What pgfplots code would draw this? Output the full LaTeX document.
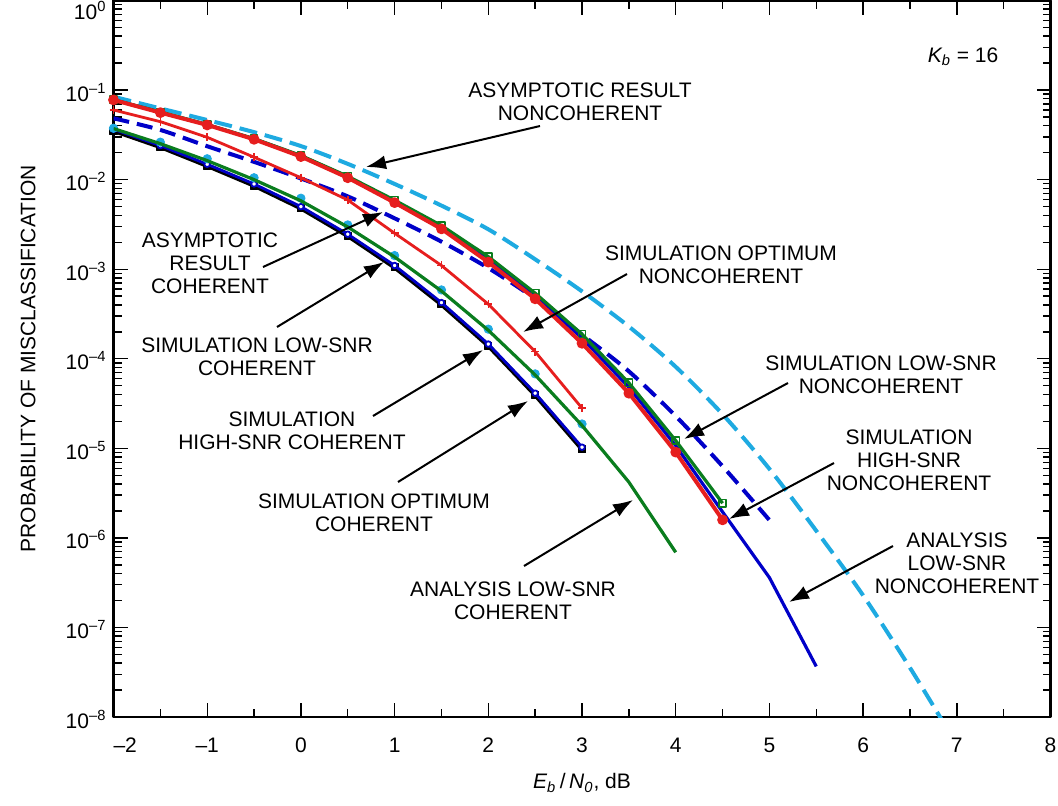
\documentclass[border=0pt]{standalone}
\usepackage{fontspec}
\setmainfont{Liberation Sans}
\usepackage{pgfplots}
\pgfplotsset{compat=1.18}
\usetikzlibrary{arrows.meta}

\definecolor{skyblue}{HTML}{1EAAE1}
\definecolor{deepblue}{HTML}{0000C8}
\definecolor{brightred}{HTML}{E61E1E}
\definecolor{darkgreen}{HTML}{0A7D1E}

\begin{document}
\begin{tikzpicture}[font=\fontsize{10.5}{11.6}\selectfont]
\begin{axis}[
  ymode=log,
  scale only axis, width=468.5pt, height=358.25pt,
  xmin=-2, xmax=8, ymin=1e-8, ymax=1,
  xtick={-2,-1,0,1,2,3,4,5,6,7,8},
  xticklabels={\makebox[0pt][l]{\textendash 2},\textendash 1,0,1,2,3,4,5,6,7,8},
  minor x tick num=1,
  ytick={1e-8,1e-7,1e-6,1e-5,1e-4,1e-3,1e-2,1e-1,1},
  yticklabels={10\textsuperscript{\textendash 8},10\textsuperscript{\textendash 7},10\textsuperscript{\textendash 6},10\textsuperscript{\textendash 5},10\textsuperscript{\textendash 4},10\textsuperscript{\textendash 3},10\textsuperscript{\textendash 2},10\textsuperscript{\textendash 1},\raisebox{-8.5pt}[0pt][0pt]{10\textsuperscript{0}}},
  tick align=inside,
  major tick length=7pt, minor tick length=4pt,
  every tick/.style={black, line width=0.7pt},
  axis line style={line width=1.2pt},
  xticklabel shift=7pt,
  yticklabel style={yshift=-1pt},
  xlabel={{\itshape E\textsubscript{b}}\,/\,{\itshape N\textsubscript{0}}, dB},
  ylabel={PROBABILITY OF MISCLASSIFICATION},
  every axis x label/.style={at={(axis description cs:0.5,-0.092)},anchor=center},
  every axis y label/.style={at={(axis description cs:-0.0912,0.5)},anchor=center,rotate=90},
  clip mode=individual,
  line join=round,
]
% asymptotic result, noncoherent
\addplot[skyblue, line width=2pt, dash pattern=on 9pt off 4pt, smooth] coordinates {
(-2,0.0843)(-1.5,0.0624)(-1,0.0463)(-0.5,0.0339)(0,0.0237)(0.5,0.0150)(1,0.00895)
(1.5,0.00513)(2,0.00279)(2.5,0.00129)(3,5.66e-4)(3.5,2.29e-4)(4,8.13e-5)(4.5,2.40e-5)
(5,5.89e-6)(5.5,1.20e-6)(6,2.28e-7)(6.5,3.55e-8)(6.85,8.9e-9)};
% asymptotic result, coherent
\addplot[deepblue, line width=2pt, dash pattern=on 8pt off 4pt, smooth] coordinates {
(-2,0.0484)(-1.5,0.0359)(-1,0.0236)(-0.5,0.0158)(0,0.0103)(0.5,0.0065)(1,0.0037)
(1.5,0.00203)(2,0.00103)(2.5,4.68e-4)(3,1.86e-4)(3.5,7.24e-5)(4,2.29e-5)(4.5,6.31e-6)(5,1.58e-6)};
% analysis low-SNR, noncoherent
\addplot[deepblue, line width=1.6pt] coordinates {
(-2,0.0778)(-1.5,0.0565)(-1,0.041)(-0.5,0.0285)(0,0.0184)(0.5,0.0107)(1,5.7e-3)
(1.5,2.95e-3)(2,1.3e-3)(2.5,5.1e-4)(3,1.7e-4)(3.5,4.8e-5)(4,1.07e-5)(4.5,1.95e-6)(5,3.6e-7)(5.5,3.67e-8)};
% simulation low-SNR, noncoherent
\addplot[darkgreen, line width=1.6pt, mark=square, mark size=1.8pt, mark options={fill=white, line width=0.8pt}] coordinates {
(-2,0.078)(-1.5,0.057)(-1,0.0413)(-0.5,0.0287)(0,0.0186)(0.5,0.0109)(1,5.9e-3)
(1.5,3.07e-3)(2,1.38e-3)(2.5,5.4e-4)(3,1.88e-4)(3.5,5.38e-5)(4,1.22e-5)(4.5,2.44e-6)};
% simulation high-SNR, noncoherent
\addplot[brightred, line width=2pt, mark=*, mark size=2.3pt, mark options={line width=0.8pt}] coordinates {
(-2,0.0776)(-1.5,0.056)(-1,0.0408)(-0.5,0.0282)(0,0.0181)(0.5,0.0105)(1,5.54e-3)
(1.5,2.82e-3)(2,1.2e-3)(2.5,4.67e-4)(3,1.49e-4)(3.5,4.13e-5)(4,9.07e-6)(4.5,1.59e-6)};
% simulation optimum, noncoherent
\addplot[brightred, line width=1.4pt, mark=+, mark size=2pt, mark options={line width=0.8pt}] coordinates {
(-2,0.060)(-1.5,0.0444)(-1,0.0297)(-0.5,0.0178)(0,0.0105)(0.5,0.00593)(1,2.52e-3)
(1.5,1.10e-3)(2,4.07e-4)(2.5,1.20e-4)(3,2.81e-5)};
% simulation low-SNR, coherent
\addplot[black, line width=2.2pt, mark=square*, mark size=1.8pt, mark options={line width=0.5pt}] coordinates {
(-2,0.0352)(-1.5,0.0232)(-1,0.0143)(-0.5,0.0086)(0,0.0048)(0.5,0.00236)(1,1.05e-3)
(1.5,4.05e-4)(2,1.40e-4)(2.5,3.95e-5)(3,9.8e-6)};
% simulation high-SNR, coherent
\addplot[deepblue, line width=1.4pt, mark=*, mark size=1.4pt, mark options={fill=white, line width=0.9pt}] coordinates {
(-2,0.0365)(-1.5,0.024)(-1,0.01486)(-0.5,0.00895)(0,0.0050)(0.5,0.00246)(1,1.10e-3)
(1.5,4.24e-4)(2,1.46e-4)(2.5,4.13e-5)(3,1.03e-5)};
% simulation optimum, coherent
\addplot[skyblue, only marks, mark=*, mark size=2.1pt] coordinates {
(-2,0.0375)(-1.5,0.0262)(-1,0.0171)(-0.5,0.0105)(0,0.0062)(0.5,0.00312)(1,1.42e-3)
(1.5,5.87e-4)(2,2.14e-4)(2.5,6.78e-5)(3,1.87e-5)};
% analysis low-SNR, coherent
\addplot[darkgreen, line width=1.6pt] coordinates {
(-2,0.0372)(-1.5,0.0252)(-1,0.0163)(-0.5,0.0100)(0,0.0058)(0.5,0.00296)(1,1.37e-3)
(1.5,5.7e-4)(2,2.08e-4)(2.5,6.6e-5)(3,1.8e-5)(3.5,4.2e-6)(4,6.9e-7)};
\end{axis}

% annotations, laid out on a pixel grid whose origin is the top-left corner
\begin{scope}[x=0.5pt, y=-0.5pt, shift={(-56.75pt,358.5pt)}]
\pgfresetboundingbox
\path[use as bounding box] (0,0) rectangle (1058,805);
\tikzset{lbl/.style={align=center, inner sep=0pt},
         arr/.style={line width=1pt, -{Latex[length=10pt,width=7pt]}}}
\node[lbl] at (963,57) {{\itshape K\textsubscript{b}} = 16};
\node[lbl] at (580,101.5) {ASYMPTOTIC RESULT\\NONCOHERENT};
\node[lbl] at (210,263) {ASYMPTOTIC\\RESULT\\COHERENT};
\node[lbl] at (257,356.5) {SIMULATION LOW-SNR\\COHERENT};
\node[lbl] at (292,431) {SIMULATION\\HIGH-SNR COHERENT};
\node[lbl] at (374,512.5) {SIMULATION OPTIMUM\\COHERENT};
\node[lbl] at (513,601) {ANALYSIS LOW-SNR\\COHERENT};
\node[lbl] at (721,264.5) {SIMULATION OPTIMUM\\NONCOHERENT};
\node[lbl] at (881,375) {SIMULATION LOW-SNR\\NONCOHERENT};
\node[lbl] at (909,460.5) {SIMULATION\\HIGH-SNR\\NONCOHERENT};
\node[lbl] at (957,563) {ANALYSIS\\LOW-SNR\\NONCOHERENT};
\draw[arr] (540,126) -- (366,167);
\draw[arr] (263,267) -- (383,212);
\draw[arr] (277,327) -- (384,262);
\draw[arr] (373,416) -- (483,350);
\draw[arr] (398,482) -- (528,401);
\draw[arr] (524,566) -- (633,500);
\draw[arr] (627,274) -- (523,332);
\draw[arr] (788,383) -- (684,439);
\draw[arr] (834,463) -- (729,519);
\draw[arr] (893,546) -- (789,602);
\end{scope}
\end{tikzpicture}
\end{document}
